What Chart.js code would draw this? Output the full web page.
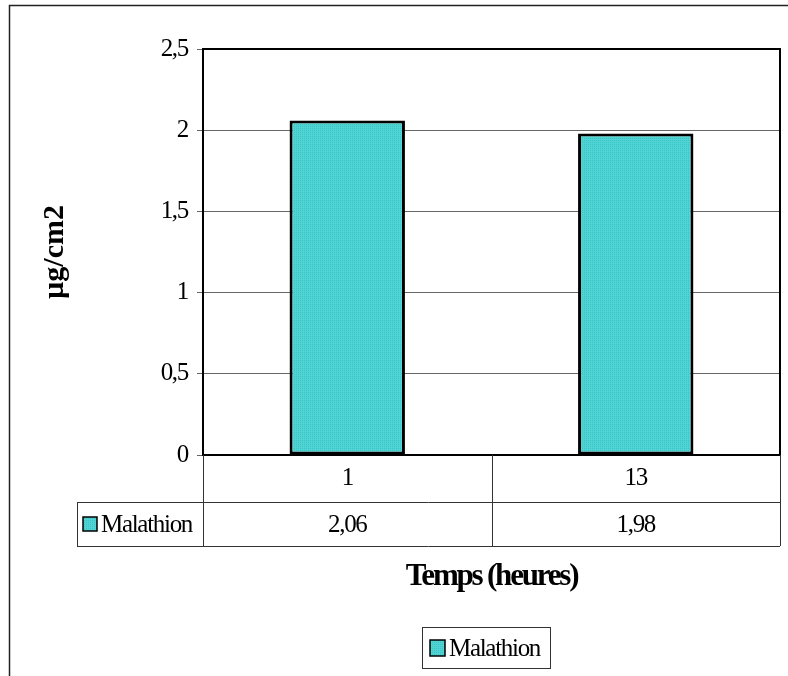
<!DOCTYPE html>
<html>
<head>
<meta charset="utf-8">
<script src="https://cdn.jsdelivr.net/npm/chart.js@4.4.1/dist/chart.umd.min.js"></script>
<style>
  html, body { margin: 0; padding: 0; background: #fff; }
  #wrap { width: 788px; height: 676px; }
</style>
</head>
<body>
<div id="wrap"><canvas id="c" width="788" height="676"></canvas></div>
<script>
// Exposure times (hours) and measured Malathion residue (µg/cm2)
const categories = ['1', '13'];
const seriesName = 'Malathion';
const malathion = [2.06, 1.98];
const yTicks = [0, 0.5, 1, 1.5, 2, 2.5];
const xTitle = 'Temps (heures)';
const yTitle = 'µg/cm2';

const SERIF = "'Liberation Serif', 'Times New Roman', serif";

// fine dotted turquoise fill for the bars and keys
function dottedFill() {
  const t = document.createElement('canvas');
  t.width = 2; t.height = 2;
  const g = t.getContext('2d');
  g.fillStyle = 'rgb(80,211,211)';
  g.fillRect(0, 0, 2, 2);
  g.fillStyle = 'rgb(58,196,198)';
  g.fillRect(0, 0, 1, 1);
  return document.getElementById('c').getContext('2d').createPattern(t, 'repeat');
}
const BAR_FILL = dottedFill();

const fmt = v => String(v).replace('.', ',');

// Frame, plot border, axis titles, data table and boxed legend
const decorations = {
  id: 'decorations',
  beforeDraw(chart) {
    const ctx = chart.ctx;
    ctx.save();
    ctx.fillStyle = '#fff';
    ctx.fillRect(0, 0, chart.width, chart.height);
    ctx.strokeStyle = '#222';
    ctx.lineWidth = 1.5;
    ctx.strokeRect(9.5, 5.5, chart.width + 20, chart.height + 20);
    ctx.restore();
    // narrow set text
    ctx.letterSpacing = '-1.3px';
  },
  afterDraw(chart) {
    const ctx = chart.ctx;
    const a = chart.chartArea;
    const x = chart.scales.x;
    const ds = chart.data.datasets[0];

    ctx.save();
    // top and right edges of the plot area
    ctx.strokeStyle = '#000';
    ctx.lineWidth = 2;
    ctx.beginPath();
    ctx.moveTo(a.left, a.top);
    ctx.lineTo(a.right, a.top);
    ctx.lineTo(a.right, a.bottom);
    ctx.stroke();

    // data table grid
    const row1 = a.bottom + 47;
    const row2 = row1 + 44;
    const tableLeft = 77;
    const cols = [a.left];
    for (let i = 0; i < categories.length - 1; i++) {
      cols.push((x.getPixelForValue(i) + x.getPixelForValue(i + 1)) / 2);
    }
    cols.push(a.right);

    ctx.lineWidth = 1;
    ctx.strokeStyle = '#333';
    ctx.beginPath();
    cols.forEach(cx => {
      const px = Math.round(cx) + 0.5;
      ctx.moveTo(px, a.bottom);
      ctx.lineTo(px, row2);
    });
    ctx.moveTo(tableLeft + 0.5, row1);
    ctx.lineTo(tableLeft + 0.5, row2);
    ctx.moveTo(tableLeft, row1 + 0.5);
    ctx.lineTo(a.right, row1 + 0.5);
    ctx.moveTo(tableLeft, row2 + 0.5);
    ctx.lineTo(a.right, row2 + 0.5);
    ctx.stroke();

    // series row: key + name, then values
    const rowMid = (row1 + row2) / 2;
    ctx.fillStyle = ds.backgroundColor;
    ctx.fillRect(83, rowMid - 7, 14, 14);
    ctx.strokeStyle = '#000';
    ctx.lineWidth = 1.5;
    ctx.strokeRect(83, rowMid - 7, 14, 14);

    ctx.fillStyle = '#000';
    ctx.font = '25px ' + SERIF;
    ctx.letterSpacing = '-1.3px';
    ctx.textBaseline = 'middle';
    ctx.textAlign = 'left';
    ctx.fillText(ds.label, 101, rowMid + 1);
    ctx.textAlign = 'center';
    ds.data.forEach((v, i) => {
      ctx.fillText(fmt(v), x.getPixelForValue(i), rowMid + 1);
    });

    // boxed legend below the axis title
    const lx = 422.5, ly = 627.5, lw = 128, lh = 41;
    ctx.strokeStyle = '#333';
    ctx.lineWidth = 1;
    ctx.strokeRect(lx, ly, lw, lh);
    ctx.fillStyle = ds.backgroundColor;
    ctx.fillRect(430, 640, 15, 16);
    ctx.strokeStyle = '#000';
    ctx.lineWidth = 1.5;
    ctx.strokeRect(430, 640, 15, 16);
    ctx.fillStyle = '#000';
    ctx.textAlign = 'left';
    ctx.fillText(ds.label, 449, ly + lh / 2 + 1);

    // axis titles
    ctx.textBaseline = 'alphabetic';
    ctx.textAlign = 'center';
    ctx.font = 'bold 31px ' + SERIF;
    ctx.letterSpacing = '-2.2px';
    ctx.fillText(xTitle, (a.left + a.right) / 2, 585);

    ctx.font = 'bold 30px ' + SERIF;
    ctx.letterSpacing = '0px';
    ctx.translate(63, (a.top + a.bottom) / 2);
    ctx.rotate(-Math.PI / 2);
    ctx.fillText(yTitle, 0, 0);
    ctx.restore();
  }
};

new Chart(document.getElementById('c'), {
  type: 'bar',
  data: {
    labels: categories,
    datasets: [{
      label: seriesName,
      data: malathion,
      backgroundColor: BAR_FILL,
      borderColor: '#000',
      borderWidth: 3,
      borderSkipped: false,
      barPercentage: 0.4,
      categoryPercentage: 1
    }]
  },
  options: {
    responsive: false,
    animation: false,
    devicePixelRatio: 1,
    layout: { padding: { top: 49, right: 8, left: 0, bottom: 0 } },
    plugins: {
      legend: { display: false },
      tooltip: { enabled: false }
    },
    scales: {
      x: {
        grid: { display: false, drawTicks: false },
        border: { display: true, color: '#000', width: 2 },
        ticks: { color: '#000', padding: 8, font: { family: SERIF, size: 25 } },
        afterFit(scale) { scale.height = 221; }
      },
      y: {
        min: 0,
        max: 2.5,
        afterBuildTicks(scale) { scale.ticks = yTicks.map(v => ({ value: v })); },
        grid: { color: '#666', lineWidth: 1, tickLength: 6, tickColor: '#666' },
        border: { display: true, color: '#000', width: 2 },
        ticks: {
          color: '#000',
          padding: 9,
          font: { family: SERIF, size: 25 },
          callback: v => fmt(v)
        },
        afterFit(scale) { scale.width = 203; }
      }
    }
  },
  plugins: [decorations]
});
</script>
</body>
</html>
